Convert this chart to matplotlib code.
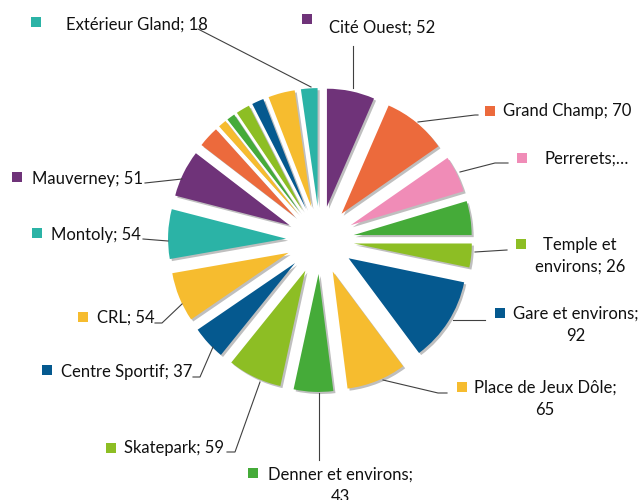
import matplotlib
matplotlib.use("Agg")
import matplotlib.pyplot as plt
import matplotlib.patheffects as pe

# ---- data (clockwise from 12 o'clock) ----
categories = ["Cité Ouest", "Grand Champ", "Perrerets", "", "Temple et environs",
              "Gare et environs", "Place de Jeux Dôle", "Denner et environs",
              "Skatepark", "Centre Sportif", "CRL", "Montoly", "Mauverney",
              "", "", "", "", "", "", "Extérieur Gland"]
values = [52, 70, 40, 37, 26, 92, 65, 43, 59, 37, 54, 54, 51,
          23, 9, 9, 15, 13, 29, 18]
colors = ["#6F3379", "#EC6A3C", "#F08CB7", "#45AB39", "#8DBE24", "#05598F",
          "#F6BC2F", "#45AB39", "#8DBE24", "#05598F", "#F6BC2F", "#2BB3A6",
          "#6F3379", "#EC6A3C", "#F6BC2F", "#45AB39", "#8DBE24", "#05598F",
          "#F6BC2F", "#2BB3A6"]
label_texts = {
    "Cité Ouest": "Cité Ouest; 52",
    "Grand Champ": "Grand Champ; 70",
    "Perrerets": "Perrerets;…",
    "Temple et environs": "Temple et\nenvirons; 26",
    "Gare et environs": "Gare et environs;\n92",
    "Place de Jeux Dôle": "Place de Jeux Dôle;\n65",
    "Denner et environs": "Denner et environs;\n43",
    "Skatepark": "Skatepark; 59",
    "Centre Sportif": "Centre Sportif; 37",
    "CRL": "CRL; 54",
    "Montoly": "Montoly; 54",
    "Mauverney": "Mauverney; 51",
    "Extérieur Gland": "Extérieur Gland; 18",
}

W, H = 642, 500
plt.rcParams['font.family'] = ['Lato', 'DejaVu Sans']

fig = plt.figure(figsize=(W / 100, H / 100), dpi=100)
ax = fig.add_axes([0, 0, 1, 1])

def P(x, y):
    return (x, H - y)

R = 118
wedges, _ = ax.pie(values, colors=colors, startangle=90, counterclock=False,
                   radius=R, center=P(320, 240), explode=[0.288 * R] * len(values),
                   wedgeprops=dict(linewidth=0))
for w in wedges:
    w.set_path_effects([pe.SimplePatchShadow(offset=(1.5, -1.5), shadow_rgbFace="black", alpha=0.25),
                        pe.Normal()])

ax.set_xlim(0, W)
ax.set_ylim(0, H)
ax.set_aspect('equal')
ax.axis('off')

# label layout: square centre, text anchor, alignment, leader polyline (pixel coords)
layout = {
    "Extérieur Gland": ((36, 22), (66, 25), 'left', [(198, 29), (311, 87)]),
    "Cité Ouest": ((307, 19), (329, 28), 'left', [(353, 46), (353, 88)]),
    "Grand Champ": ((490, 111), (503, 111), 'left', [(418, 122), (475, 115), (478, 115)]),
    "Perrerets": ((522, 158), (544, 159), 'left', [(460, 172), (495, 163), (508, 163)]),
    "Temple et environs": ((521, 244), (580, 256), 'center', [(475, 252), (507, 250)]),
    "Gare et environs": ((500, 313), (576, 325), 'center', [(453, 320), (485, 320)]),
    "Place de Jeux Dôle": ((462, 387), (545, 399), 'center', [(383, 380), (438, 393), (447, 393)]),
    "Denner et environs": ((253, 473), (340, 486), 'center', [(319, 393), (319, 460)]),
    "Skatepark": ((111, 448), (124, 448), 'left', [(260, 382), (235, 452), (227, 452)]),
    "Centre Sportif": ((47, 370), (61, 372), 'left', [(213, 347), (200, 377), (193, 377)]),
    "CRL": ((83, 317), (97, 318), 'left', [(182, 304), (162, 323), (155, 323)]),
    "Montoly": ((37, 233), (51, 235), 'left', [(168, 241), (143, 239)]),
    "Mauverney": ((17, 177), (32, 179), 'left', [(182, 179), (145, 183)]),
}

for cat, col in zip(categories, colors):
    if cat not in layout:
        continue
    sq, tp, ha, line = layout[cat]
    xs, ys = zip(*[P(*p) for p in line])
    ax.plot(xs, ys, color="#404040", lw=0.8, zorder=1)
    ax.scatter(*P(*sq), marker='s', s=50, color=col, zorder=3, linewidths=0)
    ax.text(*P(*tp), label_texts[cat], ha=ha, va='center', fontsize=12,
            color="#111111", linespacing=1.45, multialignment='center')

fig.savefig("out.png", dpi=100)
